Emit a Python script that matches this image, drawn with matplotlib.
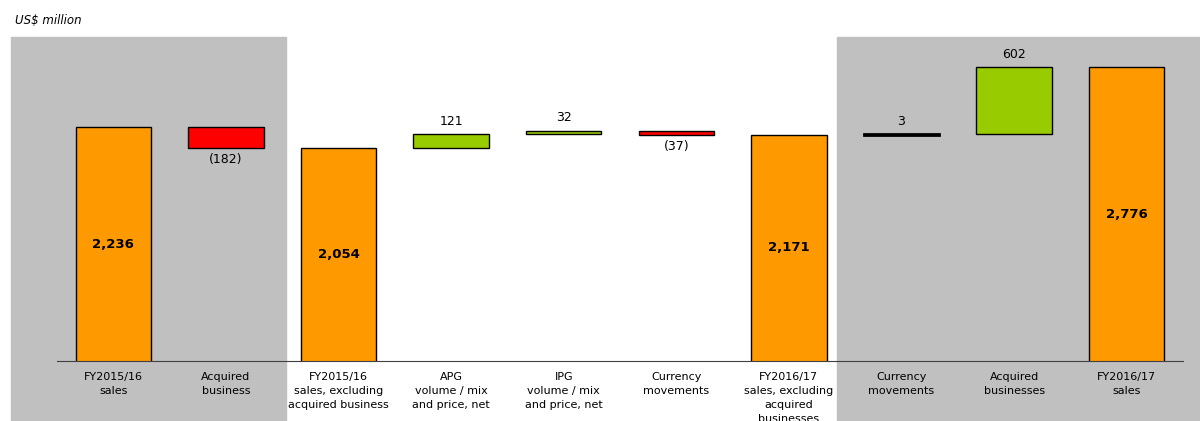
import matplotlib.pyplot as plt
from matplotlib.patches import Rectangle

# datos del puente de ventas
categorias = ['FY2015/16\nsales', 'Acquired\nbusiness', 'FY2015/16\nsales, excluding\nacquired business',
              'APG\nvolume / mix\nand price, net', 'IPG\nvolume / mix\nand price, net', 'Currency\nmovements',
              'FY2016/17\nsales, excluding\nacquired\nbusinesses', 'Currency\nmovements', 'Acquired\nbusinesses',
              'FY2016/17\nsales']
valores = [2236, -182, 2054, 121, 32, -37, 2171, 3, 602, 2776]
es_total = [True, False, True, False, False, False, True, False, False, True]
etiquetas = ['2,236', '(182)', '2,054', '121', '32', '(37)', '2,171', '3', '602', '2,776']

naranja = '#FF9900'
rojo = '#FF0000'
verde = '#99CC00'
gris = '#C0C0C0'

fig = plt.figure(figsize=(12, 4.21), dpi=100)

# paneles grises de fondo
fig.patches.append(Rectangle((11 / 1200, 0), (286 - 11) / 1200, 1 - 37 / 421,
                             transform=fig.transFigure, color=gris, zorder=0))
fig.patches.append(Rectangle((837 / 1200, 0), 1 - 837 / 1200, 1 - 37 / 421,
                             transform=fig.transFigure, color=gris, zorder=0))

ax = fig.add_axes([57 / 1200, 1 - 361 / 421, (1183 - 57) / 1200, (361 - 37) / 421])
ax.patch.set_alpha(0)
ax.set_zorder(2)

acum = 0
for i, v in enumerate(valores):
    if es_total[i]:
        base, alto, color = 0, v, naranja
        acum = v
    else:
        if v >= 0:
            base, alto, color = acum, v, verde
        else:
            base, alto, color = acum + v, -v, rojo
        acum = acum + v
    lw = 2 if abs(v) < 10 else 1
    ax.bar(i, alto, bottom=base, width=0.67, color=color, edgecolor='black', linewidth=lw, zorder=2)
    if es_total[i]:
        ax.text(i, (130 + v) / 2, etiquetas[i], ha='center', va='center', fontsize=9.5, fontweight='bold')
    elif v >= 0:
        ax.text(i, base + alto + 55, etiquetas[i], ha='center', va='bottom', fontsize=9)
    else:
        ax.text(i, base - 45, etiquetas[i], ha='center', va='top', fontsize=9)

ax.set_xlim(-0.5, 9.5)
ax.set_ylim(130, 3050)
ax.set_xticks(range(len(categorias)))
ax.set_xticklabels(categorias, fontsize=8, linespacing=1.5)
ax.tick_params(axis='x', length=0, pad=8)
ax.set_yticks([])
for s in ['top', 'left', 'right']:
    ax.spines[s].set_visible(False)
ax.spines['bottom'].set_color('#404040')

fig.text(15 / 1200, 1 - 20 / 421, 'US$ million', style='italic', fontsize=8.5, va='center')

plt.savefig('out.png', dpi=100)
